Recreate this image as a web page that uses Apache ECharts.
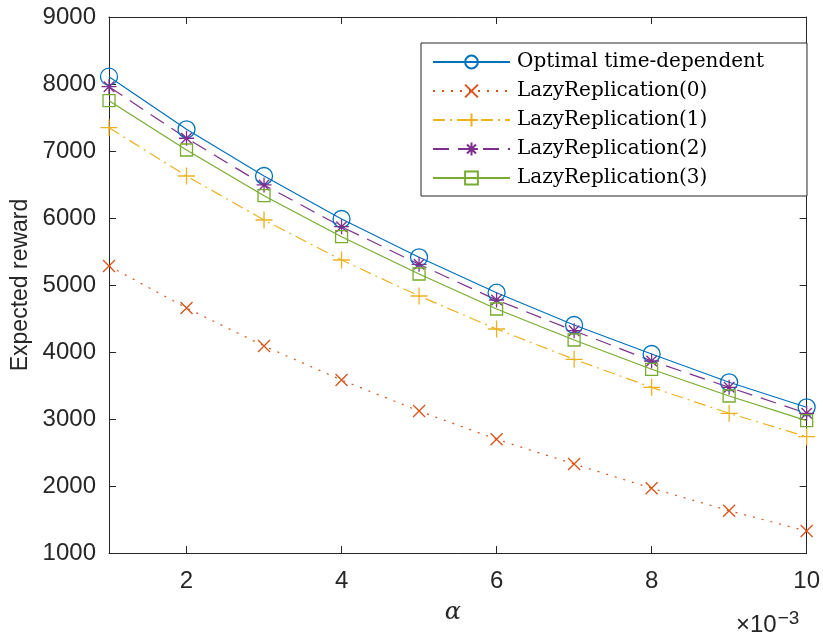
<!DOCTYPE html>
<html lang="en">
<head>
    <meta charset="UTF-8">
    <script src="https://cdn.jsdelivr.net/npm/echarts@6/dist/echarts.min.js"></script>
    <title>Expected reward vs alpha</title>
    <style>
        body { margin: 0; background: #ffffff; }
        #chart { width: 823px; height: 639px; }
    </style>
</head>
<body>
<div id="chart"></div>
<script>
    // alpha (x 10^-3)
    const alphaVals = [1, 2, 3, 4, 5, 6, 7, 8, 9, 10];
    const xTicks = [2, 4, 6, 8, 10];

    const optimal = [8110, 7324, 6627, 5985, 5413, 4885, 4403, 3970, 3548, 3175];
    const lazy0 = [5283, 4657, 4090, 3582, 3119, 2697, 2328, 1966, 1631, 1328];
    const lazy1 = [7348, 6627, 5970, 5373, 4836, 4343, 3891, 3473, 3085, 2736];
    const lazy2 = [7960, 7190, 6493, 5870, 5309, 4776, 4318, 3866, 3473, 3085];
    const lazy3 = [7751, 7015, 6333, 5721, 5164, 4642, 4179, 3742, 3343, 2975];

    const seriesNames = ['Optimal time-dependent', 'LazyReplication(0)', 'LazyReplication(1)',
        'LazyReplication(2)', 'LazyReplication(3)'];

    const axisColor = '#262626';
    const labelFont = 'Liberation Sans, Arial, sans-serif';

    const chart = echarts.init(document.getElementById('chart'));

    function pairs(ys) {
        return alphaVals.map(function (x, i) { return [x, ys[i]]; });
    }

    // 标记形状
    const xMark = 'path://M-1,-1L1,1M-1,1L1,-1';
    const plusMark = 'path://M0,-1L0,1M-1,0L1,0';
    const starMark = 'path://M0,-1L0,1M-1,0L1,0M-0.7,-0.7L0.7,0.7M-0.7,0.7L0.7,-0.7';

    function makeSeries(name, ys, color, lineType, symbol, size) {
        return {
            name: name,
            type: 'line',
            data: pairs(ys),
            symbol: symbol,
            symbolSize: size,
            showAllSymbol: true,
            animation: false,
            lineStyle: {color: color, width: 1.2, type: lineType},
            itemStyle: {color: 'rgba(0,0,0,0)', borderColor: color, borderWidth: 1.3},
            emphasis: {disabled: true}
        };
    }

    const xBase = {
        type: 'value',
        min: 1,
        max: 10,
        axisLine: {show: true, onZero: false, lineStyle: {color: axisColor, width: 1}},
        axisTick: {show: true, inside: true, length: 7, customValues: xTicks,
            lineStyle: {color: axisColor}},
        splitLine: {show: false}
    };
    const yBase = {
        type: 'value',
        min: 1000,
        max: 9000,
        interval: 1000,
        axisLine: {show: true, onZero: false, lineStyle: {color: axisColor, width: 1}},
        axisTick: {show: true, inside: true, length: 7, lineStyle: {color: axisColor}},
        splitLine: {show: false}
    };

    const option = {
        backgroundColor: '#ffffff',
        animation: false,
        grid: {left: 109, right: 15, top: 17, bottom: 86, containLabel: false},
        xAxis: [
            Object.assign({}, xBase, {
                position: 'bottom',
                name: 'α',
                nameLocation: 'middle',
                nameGap: 48,
                nameTextStyle: {fontFamily: 'DejaVu Serif, serif', fontStyle: 'italic',
                    fontSize: 24, color: axisColor, padding: [0, 10, 0, 0]},
                axisLabel: {show: true, customValues: xTicks, margin: 16,
                    fontSize: 24, fontFamily: labelFont, color: axisColor}
            }),
            Object.assign({}, xBase, {
                position: 'top',
                axisLabel: {show: false}
            })
        ],
        yAxis: [
            Object.assign({}, yBase, {
                position: 'left',
                name: 'Expected reward',
                nameLocation: 'middle',
                nameGap: 73,
                nameTextStyle: {fontFamily: labelFont, fontSize: 23, color: axisColor},
                axisLabel: {show: true, margin: 13, fontSize: 24, fontFamily: labelFont,
                    color: axisColor, formatter: function (v) { return String(v); }}
            }),
            Object.assign({}, yBase, {
                position: 'right',
                axisLabel: {show: false}
            })
        ],
        legend: {
            orient: 'vertical',
            left: 421,
            top: 43,
            padding: [9, 43, 8, 11],
            itemWidth: 77,
            itemHeight: 16,
            itemGap: 9,
            backgroundColor: '#ffffff',
            borderColor: axisColor,
            borderWidth: 1,
            borderRadius: 0,
            selectedMode: false,
            textStyle: {fontFamily: 'DejaVu Serif, serif', fontSize: 20, color: '#000000',
                lineHeight: 20, padding: [0, 0, 0, 2]},
            data: seriesNames
        },
        graphic: [{
            type: 'text',
            left: 736,
            top: 609,
            style: {
                rich: {
                    b: {fontFamily: labelFont, fontSize: 24, fill: axisColor},
                    s: {fontFamily: labelFont, fontSize: 19, fill: axisColor, verticalAlign: 'top',
                        padding: [0, 0, 14, 1]}
                },
                text: '{b|×10}{s|−3}'
            }
        }],
        series: [
            makeSeries(seriesNames[0], optimal, '#0072BD', 'solid', 'circle', 17),
            makeSeries(seriesNames[1], lazy0, '#D95319', [2, 7], xMark, 12),
            makeSeries(seriesNames[2], lazy1, '#EDB120', [12, 5, 2, 5], plusMark, 17),
            makeSeries(seriesNames[3], lazy2, '#7E2F8E', [16, 9], starMark, 15),
            makeSeries(seriesNames[4], lazy3, '#77AC30', 'solid', 'rect', 12)
        ]
    };

    chart.setOption(option);
</script>
</body>
</html>
